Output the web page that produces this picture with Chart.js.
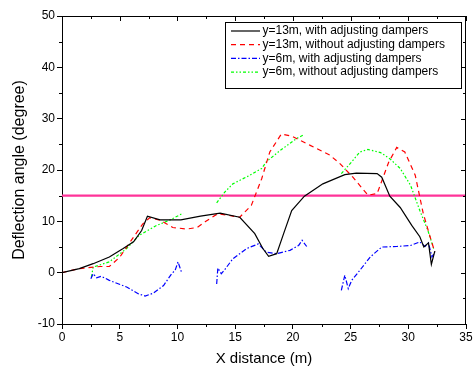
<!DOCTYPE html>
<html>
<head>
<meta charset="utf-8">
<script src="https://cdn.jsdelivr.net/npm/chart.js@4/dist/chart.umd.min.js"></script>
<style>
  html, body { margin: 0; padding: 0; background: #fff; }
  #wrap { width: 475px; height: 372px; position: relative; }
</style>
</head>
<body>
<div id="wrap"><canvas id="chart"></canvas></div>
<script>
// series, as [x, y] pairs; null breaks a line
const black13 = [[0,0],[1.5,0.8],[2.7,1.75],[4.1,3.05],[5.3,4.7],[6.2,6.0],[6.9,8.2],[7.4,11.0],[8.5,10.3],[10.3,10.3],[12.0,11.0],[13.7,11.6],[15.4,10.8],[16.7,7.6],[17.4,4.7],[17.9,3.2],[18.6,3.7],[19.2,7.6],[19.9,12.1],[21.0,14.9],[22.6,17.3],[24.5,19.1],[25.5,19.4],[27.3,19.3],[27.7,18.6],[28.4,14.9],[29.3,12.7],[30.3,9.2],[31.0,7.0],[31.35,5.0],[31.75,5.8],[32.0,1.6],[32.3,4.2]];
const red13 = [[0,0],[1.5,0.8],[3.3,1.2],[4.1,1.2],[5.0,3.0],[6.0,6.3],[7.0,9.5],[7.6,10.7],[8.5,10.2],[9.6,8.8],[10.8,8.5],[11.7,8.8],[12.4,9.9],[13.5,11.5],[15.4,10.8],[16.4,13.1],[17.3,18.3],[18.0,23.5],[19.0,27.0],[19.9,26.6],[21.5,24.8],[23.2,22.9],[24.1,21.2],[25.2,18.6],[26.5,15.1],[27.3,15.4],[28.3,21.5],[29.0,24.4],[29.7,23.5],[30.6,19.0],[31.3,11.5],[31.9,6.9],[32.3,4.0]];
const blue6 = [[2.5,-1.2],[2.7,-0.2],[3.0,-1.0],[3.4,-0.7],[4.1,-1.5],[5.6,-2.8],[6.6,-4.1],[7.2,-4.55],[7.9,-4.0],[8.8,-2.5],[9.5,-0.2],[9.8,0.45],[10.05,2.1],[10.2,1.1],[10.35,0.1],null,
  [13.4,-2.2],[13.5,0.9],[13.8,-0.2],[14.1,0.6],[14.8,2.7],[16.0,4.7],[17.0,5.6],[17.7,4.0],[18.6,3.7],[19.75,4.35],[20.5,5.3],[20.8,6.3],[21.2,5.1],null,
  [24.2,-3.45],[24.5,-0.5],[24.8,-3.1],[25.1,-1.5],[25.8,0.45],[26.7,3.05],[27.7,5.0],[29.0,5.1],[30.2,5.3],[31.0,6.0],[31.45,5.1],[31.75,5.8],[32.05,3.05],[32.3,4.0]];
const green6 = [[2.55,-0.85],[2.7,1.1],[4.1,2.1],[5.6,4.7],[6.7,7.3],[8.2,9.2],[9.3,10.2],[10.5,11.6],null,
  [13.4,13.6],[14.1,15.7],[14.8,17.3],[16.3,19.0],[17.3,20.3],[17.7,21.6],[18.9,23.8],[20.3,26.1],[20.9,26.8],null,
  [24.2,19.3],[25.1,21.6],[25.8,23.5],[26.5,24.0],[27.6,23.4],[28.4,22.2],[29.3,20.3],[30.2,17.0],[31.0,12.1],[31.7,8.2],[32.2,4.7]];
const limitLine = [[0,15],[35,15]];

const seriesNames = ['y=13m, with adjusting dampers','y=13m, without adjusting dampers','y=6m, with adjusting dampers','y=6m, without adjusting dampers'];
const xTicks = [0,5,10,15,20,25,30,35];
const yTicks = [-10,0,10,20,30,40,50];

const toPts = arr => arr.map(p => p ? {x: p[0], y: p[1]} : {x: null, y: null});

function line(label, data, color, dash, width) {
  return {
    label: label, data: toPts(data), borderColor: color, backgroundColor: color,
    borderWidth: width, borderDash: dash, showLine: true, pointRadius: 0,
    tension: 0, spanGaps: false, fill: false
  };
}

// minor ticks, mirrored top/right axis and the legend box
const framePlugin = {
  id: 'frame',
  afterDraw(chart) {
    const ctx = chart.ctx, a = chart.chartArea;
    const xs = chart.scales.x, ys = chart.scales.y;
    ctx.save();
    ctx.strokeStyle = '#000';
    ctx.lineWidth = 1;
    ctx.setLineDash([]);
    ctx.beginPath();
    ctx.moveTo(a.left, a.top + 0.5); ctx.lineTo(a.right, a.top + 0.5);
    ctx.moveTo(a.right - 0.5, a.top); ctx.lineTo(a.right - 0.5, a.bottom);
    for (let v = 0; v <= 35; v += 2.5) {
      const px = Math.round(xs.getPixelForValue(v)) + 0.5;
      const major = v % 5 === 0;
      ctx.moveTo(px, a.top); ctx.lineTo(px, a.top + (major ? 5 : 3));
      if (!major) { ctx.moveTo(px, a.bottom); ctx.lineTo(px, a.bottom + 3); }
    }
    for (let v = -10; v <= 50; v += 5) {
      const py = Math.round(ys.getPixelForValue(v)) + 0.5;
      const major = v % 10 === 0;
      ctx.moveTo(a.right, py); ctx.lineTo(a.right - (major ? 5 : 3), py);
      if (!major) { ctx.moveTo(a.left, py); ctx.lineTo(a.left - 3, py); }
    }
    ctx.stroke();

    // legend
    const lx = 225.5, ly = 22.5, lw = 236, lh = 66;
    ctx.fillStyle = '#fff';
    ctx.fillRect(lx, ly, lw, lh);
    ctx.strokeRect(lx, ly, lw, lh);
    ctx.font = '12px "Liberation Sans", Arial, sans-serif';
    ctx.textBaseline = 'middle';
    chart.data.datasets.slice(0, 4).forEach((ds, i) => {
      const y = 31 + i * 13.7;
      ctx.strokeStyle = ds.borderColor;
      ctx.lineWidth = ds.borderWidth;
      ctx.setLineDash(ds.borderDash);
      ctx.beginPath(); ctx.moveTo(231, y); ctx.lineTo(260, y); ctx.stroke();
      ctx.setLineDash([]);
      ctx.fillStyle = '#000';
      ctx.fillText(ds.label, 262.5, y);
    });
    ctx.restore();
  }
};

new Chart(document.getElementById('chart').getContext('2d'), {
  type: 'scatter',
  data: {
    datasets: [
      line(seriesNames[0], black13, '#000000', [], 1.2),
      line(seriesNames[1], red13, '#ff0000', [5, 4], 1.2),
      line(seriesNames[2], blue6, '#0000ff', [5, 2, 1.5, 2], 1.2),
      line(seriesNames[3], green6, '#00ff00', [3, 2, 1.5, 2, 1.5, 2], 1.2),
      line('limit', limitLine, '#ff3399', [], 2.2)
    ]
  },
  options: {
    responsive: true,
    maintainAspectRatio: false,
    animation: false,
    layout: { padding: { left: 0, top: 16, right: 9, bottom: 0 } },
    plugins: { legend: { display: false }, tooltip: { enabled: false } },
    scales: {
      x: {
        type: 'linear', min: 0, max: 35,
        afterBuildTicks: s => { s.ticks = xTicks.map(v => ({ value: v })); },
        afterFit: s => { s.height = 48; },
        grid: { drawOnChartArea: false, drawTicks: true, tickLength: 5, color: '#000' },
        border: { display: true, color: '#000', width: 1 },
        ticks: { color: '#000', font: { family: '"Liberation Sans", Arial', size: 12 }, padding: 1, maxRotation: 0 },
        title: { display: true, text: 'X distance (m)', color: '#000', font: { family: '"Liberation Sans", Arial', size: 15 }, padding: { top: 4, bottom: 4 } }
      },
      y: {
        type: 'linear', min: -10, max: 50,
        afterBuildTicks: s => { s.ticks = yTicks.map(v => ({ value: v })); },
        afterFit: s => { s.width = 62; },
        grid: { drawOnChartArea: false, drawTicks: true, tickLength: 5, color: '#000' },
        border: { display: true, color: '#000', width: 1 },
        ticks: { color: '#000', font: { family: '"Liberation Sans", Arial', size: 12 }, padding: 2 },
        title: { display: true, text: 'Deflection angle (degree)', color: '#000', font: { family: '"Liberation Sans", Arial', size: 16 }, padding: { top: 10, bottom: 4 } }
      }
    }
  },
  plugins: [framePlugin]
});
</script>
</body>
</html>
